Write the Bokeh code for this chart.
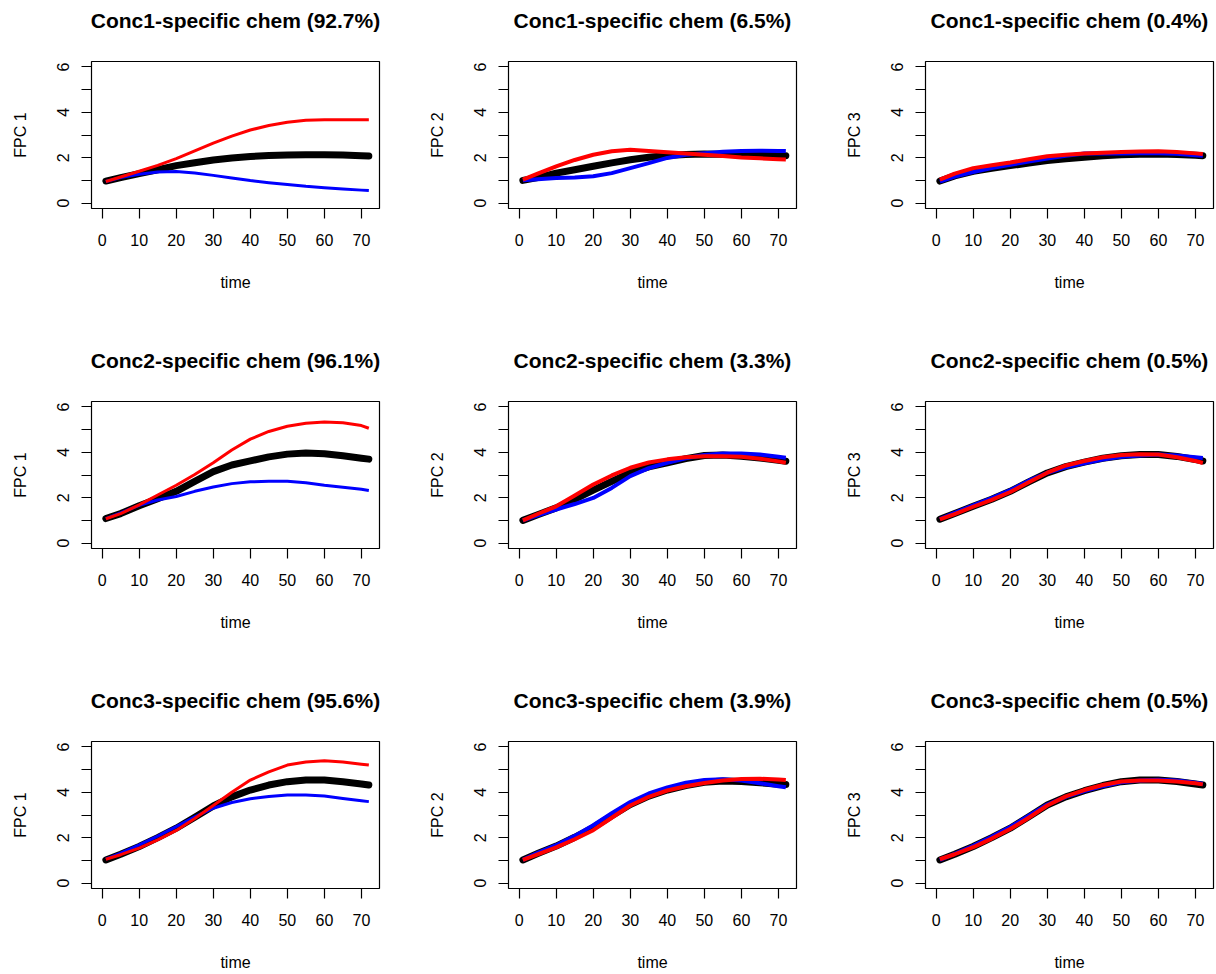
from bokeh.plotting import figure
from bokeh.layouts import gridplot
from bokeh.models import FixedTicker, Range1d, LinearAxis
from bokeh.embed import file_html
from bokeh.resources import INLINE

# sampling times (hours)
time = [1, 5, 10, 15, 20, 25, 30, 35, 40, 45, 50, 55, 60, 65, 70, 72]

# variance explained by each FPC, per concentration
var_conc1 = [92.7, 6.5, 0.4]
var_conc2 = [96.1, 3.3, 0.5]
var_conc3 = [95.6, 3.9, 0.5]

# mean curve (black), mean + FPC (red), mean - FPC (blue)
c1_fpc1_mean = [0.97, 1.12, 1.30, 1.47, 1.65, 1.78, 1.90, 1.99, 2.05, 2.10, 2.12, 2.13, 2.13, 2.12, 2.09, 2.07]
c1_fpc1_plus = [0.95, 1.15, 1.40, 1.66, 1.96, 2.30, 2.64, 2.95, 3.22, 3.42, 3.56, 3.65, 3.67, 3.67, 3.67, 3.67]
c1_fpc1_minus = [0.95, 1.12, 1.27, 1.37, 1.39, 1.32, 1.22, 1.10, 0.99, 0.90, 0.82, 0.74, 0.68, 0.62, 0.57, 0.55]

c1_fpc2_mean = [1.00, 1.12, 1.32, 1.47, 1.62, 1.77, 1.91, 2.02, 2.10, 2.14, 2.16, 2.15, 2.13, 2.11, 2.10, 2.09]
c1_fpc2_plus = [1.03, 1.30, 1.62, 1.90, 2.13, 2.28, 2.35, 2.30, 2.24, 2.18, 2.13, 2.07, 2.01, 1.97, 1.93, 1.92]
c1_fpc2_minus = [1.00, 1.05, 1.10, 1.13, 1.18, 1.32, 1.54, 1.76, 1.99, 2.13, 2.20, 2.26, 2.30, 2.31, 2.30, 2.29]

c1_fpc3_mean = [0.97, 1.20, 1.40, 1.53, 1.65, 1.76, 1.87, 1.95, 2.02, 2.08, 2.13, 2.15, 2.16, 2.14, 2.11, 2.09]
c1_fpc3_plus = [1.03, 1.30, 1.54, 1.67, 1.79, 1.93, 2.06, 2.13, 2.18, 2.22, 2.25, 2.27, 2.28, 2.25, 2.19, 2.16]
c1_fpc3_minus = [0.95, 1.17, 1.37, 1.54, 1.69, 1.83, 1.96, 2.08, 2.18, 2.20, 2.18, 2.19, 2.20, 2.17, 2.11, 2.09]

c2_fpc1_mean = [1.08, 1.30, 1.64, 1.95, 2.28, 2.72, 3.15, 3.44, 3.62, 3.80, 3.92, 3.97, 3.94, 3.85, 3.74, 3.70]
c2_fpc1_plus = [1.07, 1.30, 1.68, 2.12, 2.55, 3.02, 3.54, 4.10, 4.58, 4.92, 5.15, 5.28, 5.34, 5.30, 5.18, 5.06]
c2_fpc1_minus = [1.08, 1.33, 1.66, 1.90, 2.05, 2.28, 2.47, 2.62, 2.70, 2.72, 2.72, 2.66, 2.55, 2.46, 2.37, 2.32]

c2_fpc2_mean = [1.00, 1.25, 1.55, 1.93, 2.33, 2.72, 3.10, 3.36, 3.54, 3.72, 3.86, 3.88, 3.83, 3.75, 3.65, 3.61]
c2_fpc2_plus = [1.00, 1.28, 1.62, 2.10, 2.58, 2.98, 3.32, 3.55, 3.69, 3.78, 3.83, 3.83, 3.80, 3.72, 3.60, 3.54]
c2_fpc2_minus = [1.00, 1.22, 1.48, 1.72, 1.99, 2.43, 2.95, 3.30, 3.54, 3.74, 3.88, 3.95, 3.95, 3.90, 3.80, 3.76]

c2_fpc3_mean = [1.05, 1.30, 1.62, 1.93, 2.28, 2.70, 3.09, 3.37, 3.57, 3.74, 3.85, 3.90, 3.90, 3.82, 3.68, 3.62]
c2_fpc3_plus = [1.04, 1.28, 1.60, 1.90, 2.25, 2.68, 3.10, 3.42, 3.62, 3.78, 3.88, 3.92, 3.90, 3.78, 3.62, 3.53]
c2_fpc3_minus = [1.06, 1.33, 1.66, 1.98, 2.33, 2.75, 3.10, 3.34, 3.52, 3.68, 3.80, 3.86, 3.90, 3.86, 3.78, 3.75]

c3_fpc1_mean = [1.02, 1.27, 1.61, 2.00, 2.42, 2.90, 3.40, 3.80, 4.10, 4.32, 4.47, 4.54, 4.54, 4.47, 4.37, 4.32]
c3_fpc1_plus = [1.05, 1.25, 1.54, 1.90, 2.32, 2.85, 3.42, 4.00, 4.54, 4.90, 5.20, 5.34, 5.39, 5.34, 5.24, 5.20]
c3_fpc1_minus = [1.05, 1.32, 1.68, 2.07, 2.49, 2.92, 3.30, 3.55, 3.72, 3.82, 3.88, 3.88, 3.84, 3.73, 3.63, 3.59]

c3_fpc2_mean = [1.02, 1.30, 1.63, 2.02, 2.45, 2.97, 3.46, 3.83, 4.10, 4.30, 4.44, 4.50, 4.48, 4.42, 4.36, 4.34]
c3_fpc2_plus = [1.02, 1.26, 1.57, 1.93, 2.33, 2.88, 3.42, 3.80, 4.08, 4.27, 4.41, 4.52, 4.59, 4.60, 4.56, 4.54]
c3_fpc2_minus = [1.02, 1.33, 1.67, 2.08, 2.55, 3.08, 3.57, 3.95, 4.22, 4.42, 4.54, 4.58, 4.52, 4.40, 4.27, 4.22]

c3_fpc3_mean = [1.02, 1.27, 1.61, 2.00, 2.42, 2.92, 3.44, 3.80, 4.07, 4.30, 4.47, 4.54, 4.54, 4.48, 4.37, 4.32]
c3_fpc3_plus = [1.05, 1.27, 1.58, 1.96, 2.38, 2.88, 3.42, 3.82, 4.10, 4.32, 4.48, 4.52, 4.52, 4.48, 4.40, 4.35]
c3_fpc3_minus = [1.02, 1.29, 1.64, 2.04, 2.47, 2.97, 3.46, 3.80, 4.05, 4.27, 4.44, 4.52, 4.55, 4.52, 4.42, 4.38]

x_ticks = [0, 10, 20, 30, 40, 50, 60, 70]
y_ticks = [0, 1, 2, 3, 4, 5, 6]
y_tick_labels = {0: "0", 1: "", 2: "2", 3: "", 4: "4", 5: "", 6: "6"}

panels = [
    ("Conc1", var_conc1, [(c1_fpc1_mean, c1_fpc1_plus, c1_fpc1_minus),
                          (c1_fpc2_mean, c1_fpc2_plus, c1_fpc2_minus),
                          (c1_fpc3_mean, c1_fpc3_plus, c1_fpc3_minus)]),
    ("Conc2", var_conc2, [(c2_fpc1_mean, c2_fpc1_plus, c2_fpc1_minus),
                          (c2_fpc2_mean, c2_fpc2_plus, c2_fpc2_minus),
                          (c2_fpc3_mean, c2_fpc3_plus, c2_fpc3_minus)]),
    ("Conc3", var_conc3, [(c3_fpc1_mean, c3_fpc1_plus, c3_fpc1_minus),
                          (c3_fpc2_mean, c3_fpc2_plus, c3_fpc2_minus),
                          (c3_fpc3_mean, c3_fpc3_plus, c3_fpc3_minus)]),
]

FONT = "Liberation Sans"
FRAME_W, FRAME_H = 288, 147
LEFT, TOP = 91, 61
ROW_BOTTOM = [132, 132, 86]
COL_RIGHT = [38, 38, 3]


def style_axis(ax, label_size="16px"):
    ax.axis_line_color = None
    ax.major_tick_in = 0
    ax.major_tick_out = 10
    ax.major_tick_line_color = "black"
    ax.major_tick_line_width = 1.2
    ax.minor_tick_line_color = None
    ax.major_label_text_font = FONT
    ax.major_label_text_font_size = "16px"
    ax.major_label_text_color = "black"
    ax.axis_label_text_font = FONT
    ax.axis_label_text_font_size = label_size
    ax.axis_label_text_font_style = "normal"
    ax.axis_label_text_color = "black"


grid = []
for r, (conc, pct, comps) in enumerate(panels):
    row = []
    for c, (mean, plus, minus) in enumerate(comps):
        p = figure(
            output_backend="svg", toolbar_location=None,
            width=LEFT + FRAME_W + COL_RIGHT[c],
            height=TOP + FRAME_H + ROW_BOTTOM[r],
            min_border_left=LEFT, min_border_right=COL_RIGHT[c],
            min_border_top=TOP, min_border_bottom=ROW_BOTTOM[r],
            x_range=Range1d(-2.88, 74.88), y_range=Range1d(-0.24, 6.24),
        )
        p.background_fill_color = "white"
        p.border_fill_color = "white"
        p.outline_line_color = "black"
        p.outline_line_width = 1.2
        p.grid.visible = False

        xax = p.below[0]
        yax = p.left[0]
        style_axis(xax)
        style_axis(yax)

        xax.ticker = FixedTicker(ticks=x_ticks)
        xax.axis_label = "time"
        xax.major_label_standoff = 15
        xax.axis_label_standoff = 25

        yax.ticker = FixedTicker(ticks=y_ticks)
        yax.major_label_overrides = y_tick_labels
        yax.major_label_orientation = "parallel"
        yax.axis_label = f"FPC {c + 1}"
        yax.major_label_standoff = 12
        yax.axis_label_standoff = 26

        # panel heading, carried by a tick-less axis above the box
        head = LinearAxis(ticker=FixedTicker(ticks=[]),
                          axis_label=f"{conc}-specific chem ({pct[c]}%)")
        style_axis(head, label_size="21px")
        head.major_tick_out = 0
        head.major_label_standoff = 0
        head.axis_label_standoff = 30
        head.axis_label_text_font_style = "bold"
        p.add_layout(head, "above")

        lw = 3 if c == 0 else 4
        p.line(time, mean, line_color="black", line_width=7, line_cap="round", line_join="round")
        p.line(time, minus, line_color="#0000FF", line_width=lw, line_join="round")
        p.line(time, plus, line_color="#FF0000", line_width=lw, line_join="round")
        row.append(p)
    grid.append(row)

layout = gridplot(grid, toolbar_location=None)
open("out.html", "w").write(file_html(layout, INLINE))
